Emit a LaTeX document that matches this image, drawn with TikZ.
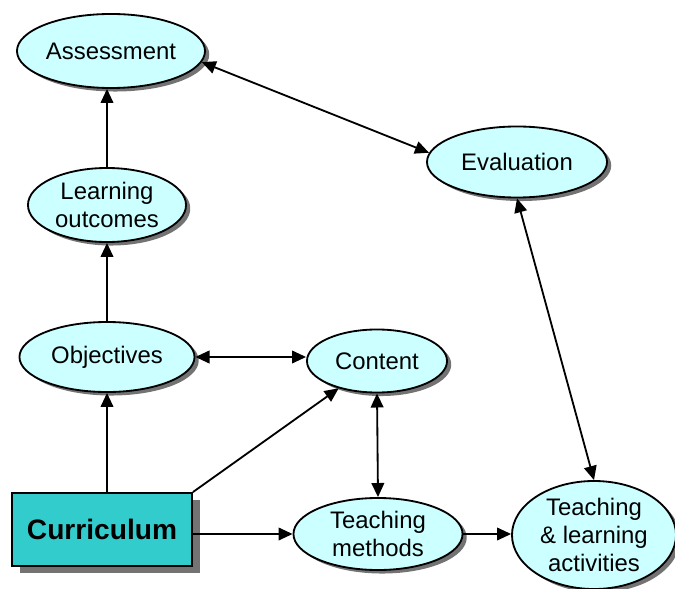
\documentclass[tikz,border=0pt]{standalone}
\usepackage{fontspec}
\setmainfont{Liberation Sans}
\usetikzlibrary{arrows.meta, shapes.geometric, shadows}
\definecolor{topicfill}{HTML}{CCFFFF}
\definecolor{currfill}{HTML}{33CCCC}

\begin{document}
\begin{tikzpicture}[%
    x=0.025cm, y=-0.025cm,
    topic/.style={
      draw,
      ellipse,
      line width=1.3pt,
      fill=topicfill,
      inner sep=0pt,
      align=center,
      font=\fontsize{17}{20}\selectfont,
      drop shadow={shadow xshift=3pt, shadow yshift=-2.5pt, fill=black!55, opacity=1}
    },
    link/.style={line width=1.3pt, -{Triangle[length=10pt,width=9pt]}},
    both/.style={line width=1.3pt, {Triangle[length=10pt,width=9pt]}-{Triangle[length=10pt,width=9pt]}}]
    \useasboundingbox (0,0) rectangle (675,589);

    \node[topic, minimum width=4.7cm, minimum height=1.85cm] at (111,51) (ass) {Assessment};
    \node[topic, minimum width=4.5cm, minimum height=1.775cm] at (517,162) (eval) {Evaluation};
    \node[topic, minimum width=3.95cm, minimum height=1.85cm] at (107,205) (lo) {Learning\\outcomes};
    \node[topic, minimum width=4.375cm, minimum height=1.75cm] at (107,357) (obj) {Objectives};
    \node[topic, minimum width=3.5cm, minimum height=1.575cm] at (377,361) (cont) {Content};
    \node[topic, minimum width=4.225cm, minimum height=1.8cm] at (378,534) (meth) {Teaching\\methods};
    \node[topic, minimum width=4.1cm, minimum height=2.7cm] at (594,535) (act) {Teaching\\\& learning\\activities};
    \node[draw, line width=1.3pt, fill=currfill, minimum width=4.5cm, minimum height=1.825cm,
          font=\fontsize{20}{24}\selectfont\bfseries,
          drop shadow={shadow xshift=6pt, shadow yshift=-5pt, fill=black!55, opacity=1}]
          at (102,529.5) (curr) {Curriculum};

    \draw[link] (curr.north -| obj.south) -- (obj.south);
    \draw[link] (obj.north) -- (lo.south);
    \draw[link] (lo.north) -- (lo.north |- ass.south);
    \draw[link] (curr.north east) -- (cont);
    \draw[link] (curr.east |- meth.west) -- (meth.west);
    \draw[link] (meth.east) -- (act.west |- meth.east);
    \draw[both] (obj.east) -- (cont.west |- obj.east);
    \draw[both] (cont.south) -- (meth.north);
    \draw[both] (eval.south) -- (act.north);
    \draw[both] (ass.-7) -- (eval.174);
\end{tikzpicture}
\end{document}
